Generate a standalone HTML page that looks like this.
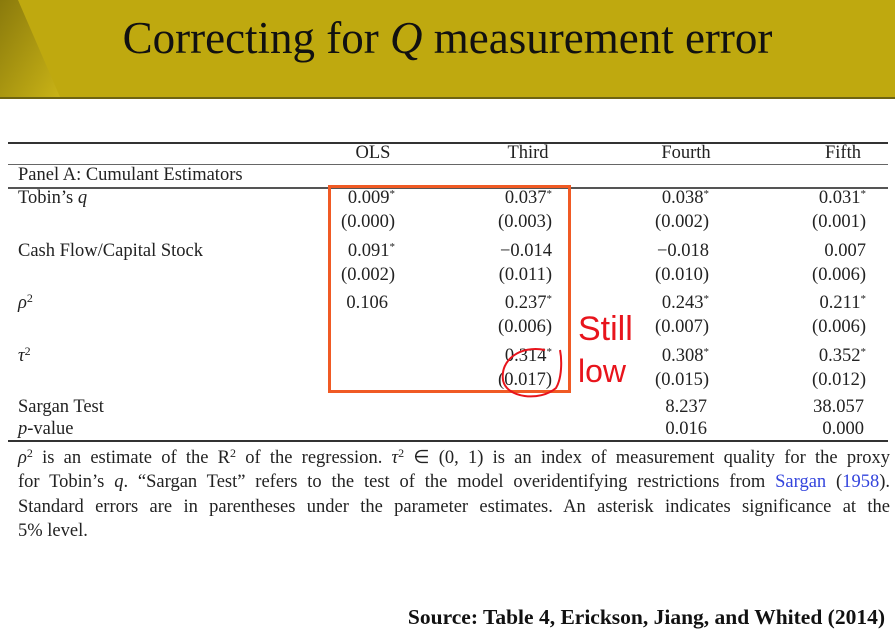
<!DOCTYPE html>
<html><head><meta charset="utf-8"><style>
body{margin:0;width:895px;height:636px;position:relative;background:#fff;overflow:hidden;font-family:"Liberation Serif",serif;color:#222}
.c{position:absolute;height:22px;line-height:22px;font-size:18.5px;white-space:nowrap}
.r{text-align:right}
sup{line-height:0;vertical-align:6px}
.rule{position:absolute;left:8px;width:880px;background:#333}
.note{position:absolute;left:18px;width:872px;font-size:18.5px;height:24px;line-height:24px;text-align:justify;text-align-last:justify;white-space:nowrap}
</style></head><body>
<div style="position:absolute;left:0;top:0;width:895px;height:97px;background:#bfa90f;border-bottom:2px solid #6e6412"></div>
<svg style="position:absolute;left:0;top:0" width="80" height="97">
<defs><linearGradient id="g" x1="0" y1="0" x2="1" y2="1"><stop offset="0" stop-color="#8a7a0c"/><stop offset="1" stop-color="#c9b316"/></linearGradient></defs>
<polygon points="0,0 18,0 60,97 0,97" fill="url(#g)"/></svg>
<div style="position:absolute;left:0;width:895px;top:12px;text-align:center;font-size:45px;color:#111;font-family:'Liberation Serif',serif">Correcting for <i>Q</i> measurement error</div>

<div class="rule" style="top:142px;height:2px"></div>
<div class="rule" style="top:164px;height:1px;background:#666"></div>
<div class="rule" style="top:187px;height:2px;background:#555"></div>
<div class="rule" style="top:440px;height:2px"></div>

<div id="tbl"></div>

<div style="position:absolute;left:328px;top:185px;width:237px;height:202px;border:3px solid #f05a24"></div>
<svg style="position:absolute;left:0;top:0" width="895" height="636">
<path d="M545,350 C520,345 500,360 503,380 C506,398 540,402 556,388 C562,378 562,360 560,350" fill="none" stroke="#e8141c" stroke-width="2"/>
<text x="578" y="340" font-family="Liberation Sans, sans-serif" font-size="34" fill="#e8141c">Still</text>
<text x="578" y="382" font-family="Liberation Sans, sans-serif" font-size="32" fill="#e8141c">low</text>
</svg>

<div class="note" style="top:446px"><i>ρ</i><sup style="font-size:12px">2</sup> is an estimate of the R<sup style="font-size:12px">2</sup> of the regression. <i>τ</i><sup style="font-size:12px">2</sup> ∈ (0, 1) is an index of measurement quality for the proxy</div>
<div class="note" style="top:470px">for Tobin’s <i>q</i>. “Sargan Test” refers to the test of the model overidentifying restrictions from <span style="color:#3344dd">Sargan</span> (<span style="color:#3344dd">1958</span>).</div>
<div class="note" style="top:495px">Standard errors are in parentheses under the parameter estimates. An asterisk indicates significance at the</div>
<div class="c" style="left:18px;top:520px">5% level.</div>

<div style="position:absolute;right:10px;top:605px;font-family:'Liberation Serif',serif;font-weight:bold;font-size:21.5px;color:#111">Source: Table 4, Erickson, Jiang, and Whited (2014)</div>

<script>
const columns=["OLS","Third","Fourth","Fifth"];
const rowLabels=["Tobin’s <i>q</i>","Cash Flow/Capital Stock","<i>ρ</i><sup style='font-size:12px'>2</sup>","<i>τ</i><sup style='font-size:12px'>2</sup>"];
const estimates=[["0.009*","0.037*","0.038*","0.031*"],["0.091*","−0.014","−0.018","0.007"],["0.106","0.237*","0.243*","0.211*"],["","0.314*","0.308*","0.352*"]];
const stdErrors=[["(0.000)","(0.003)","(0.002)","(0.001)"],["(0.002)","(0.011)","(0.010)","(0.006)"],["","(0.006)","(0.007)","(0.006)"],["","(0.017)","(0.015)","(0.012)"]];
const sargan=["","","8.237","38.057"];
const pvalues=["","","0.016","0.000"];
const t=document.getElementById('tbl');
const colRight=[395,552,709,866];
const colCenter=[373,528,686,843];
const rowY=[198,251,303,356];
function cell(html,x,y,right,name){
 const d=document.createElement('div');
 d.className='c'+(right?' r':'');
 d.innerHTML=html;
 d.style.top=(y-11)+'px';
 if(right){d.style.left=(x-140)+'px';d.style.width='140px';}else d.style.left=x+'px';
 
 
 t.appendChild(d);return d;}
columns.forEach((c,i)=>{const d=cell(c,colCenter[i]-60,153,false,'column-header');d.style.width='120px';d.style.textAlign='center';});
cell("Panel A: Cumulant Estimators",18,175,false,'panel-label');
rowLabels.forEach((l,r)=>{
 cell(l,18,rowY[r],false,'row-label');
 estimates[r].forEach((v,i)=>{if(v){const off=(i==0&&!v.includes('*'))?7:0;cell(v.replace('*','<sup style="font-size:11px">*</sup>'),colRight[i]-off,rowY[r],true,'estimate-cell');}});
 stdErrors[r].forEach((v,i)=>{if(v)cell(v,colRight[i],rowY[r]+24,true,'std-error-cell');});
});
cell("Sargan Test",18,407,false,'row-label');
cell("<i>p</i>-value",18,429,false,'row-label');
sargan.forEach((v,i)=>{if(v)cell(v,colRight[i]-2,407,true,'sargan-cell');});
pvalues.forEach((v,i)=>{if(v)cell(v,colRight[i]-2,429,true,'pvalue-cell');});
</script>
</body></html>
